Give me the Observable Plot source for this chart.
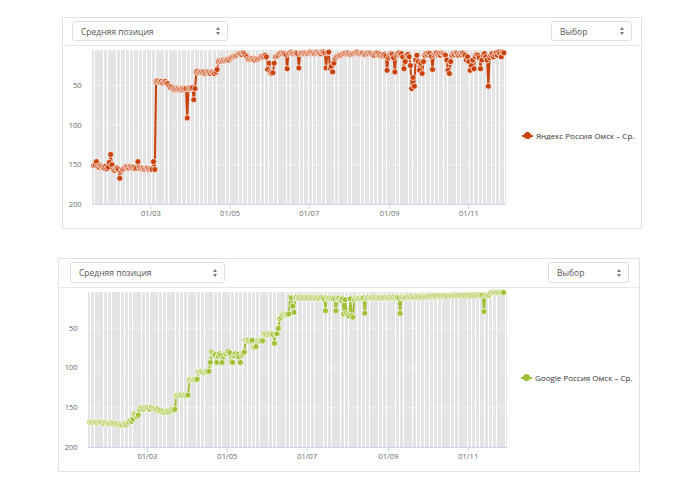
<!DOCTYPE html>
<html>
<head>
<meta charset="utf-8">
<script src="https://cdn.jsdelivr.net/npm/d3@7"></script>
<script src="https://cdn.jsdelivr.net/npm/@observablehq/plot@0.6"></script>
<style>
  body { margin: 0; background: #fff; font-family: "Open Sans", sans-serif; width: 688px; height: 480px; position: relative; overflow: hidden; }
  .card { position: absolute; box-sizing: border-box; border: 1px solid #e3e3e3; background: #fff; }
  .head { position: absolute; left: 0; right: 0; top: 0; border-bottom: 1px solid #e8e8e8; }
  .sel { position: absolute; box-sizing: border-box; border: 1px solid #dedede; border-radius: 3px; font-size: 8.5px; color: #555; padding-left: 8px; display: flex; align-items: center; }
  .arr { position: absolute; right: 7px; top: calc(50% - 4px); width: 4px; height: 8px; }
  .arr::before, .arr::after { content: ""; position: absolute; left: 0; border-left: 2px solid transparent; border-right: 2px solid transparent; }
  .arr::before { top: 0; border-bottom: 3px solid #777; }
  .arr::after { top: 5px; border-top: 3px solid #777; }
  .chart { position: absolute; left: 0; }
  .legend { position: absolute; display: flex; align-items: center; font-size: 8px; color: #333; white-space: nowrap; }
  .sym { position: relative; width: 11px; height: 8px; margin-right: 3px; }
  .sym .ln { position: absolute; left: 0; right: 0; top: 3px; height: 2px; }
  .sym .pt { position: absolute; left: 2px; top: 0.5px; width: 7px; height: 7px; border-radius: 50%; }
</style>
</head>
<body>
<div class="card" id="card1" style="left:62px; top:17px; width:580px; height:212px;">
  <div class="head" style="height:27px;">
    <div class="sel" style="left:9px; top:3px; width:156px; height:20px;">Средняя позиция<span class="arr"></span></div>
    <div class="sel" style="left:488px; top:3px; width:81px; height:20px;">Выбор<span class="arr"></span></div>
  </div>
  <div class="chart" id="chart1" style="top:27px;"></div>
  <div class="legend" style="left:459px; top:112px;"><span class="sym"><span class="ln" style="background:#c9410b"></span><span class="pt" style="background:#c9410b"></span></span>Яндекс Россия Омск – Ср.</div>
</div>
<div class="card" id="card2" style="left:58px; top:258px; width:582px; height:214px;">
  <div class="head" style="height:28px;">
    <div class="sel" style="left:11px; top:3px; width:155px; height:21px;">Средняя позиция<span class="arr"></span></div>
    <div class="sel" style="left:489px; top:3px; width:81px; height:21px;">Выбор<span class="arr"></span></div>
  </div>
  <div class="chart" id="chart2" style="top:28px;"></div>
  <div class="legend" style="left:462px; top:113px;"><span class="sym"><span class="ln" style="background:#a2c037"></span><span class="pt" style="background:#a2c037"></span></span>Google Россия Омск – Ср.</div>
</div>
<script>
// Daily average positions, 16 Jan – 28 Nov (one value per day).
const firstDay = "2017-01-16";

const yandexPositions = [
  // Jan 16–31
  151,150,146,152,153,151,152,153,154,152,155,153,147,137,150,156,
  // Feb
  157,155,154,156,167,158,156,155,153,152,153,154,152,153,154,153,155,154,146,153,155,154,155,156,155,154,155,156,
  // Mar
  155,156,146,156,45,44,45,46,45,47,46,45,47,48,51,53,52,54,55,54,55,54,55,55,54,55,54,54,91,54,53,
  // Apr
  54,53,68,54,33,32,34,33,33,34,33,35,34,33,34,35,33,34,35,33,30,20,19,20,19,18,19,18,17,18,
  // May
  16,15,14,13,13,12,11,10,10,11,9,10,12,14,17,16,17,16,17,18,16,17,16,15,14,13,14,12,14,30,22,
  // Jun
  33,35,34,22,14,13,12,10,9,10,9,10,11,29,10,9,8,9,10,9,9,10,28,10,9,9,10,9,9,10,
  // Jul
  9,8,9,9,10,9,8,9,9,10,8,8,9,28,9,8,28,26,33,22,16,14,13,12,12,11,10,10,9,10,9,
  // Aug
  10,11,10,10,9,9,8,9,10,9,9,10,11,10,9,10,9,10,11,12,10,9,10,12,11,13,12,11,13,31,15,
  // Sep
  12,10,11,15,33,12,10,9,11,10,14,29,20,12,11,14,25,54,40,51,18,12,20,31,22,35,20,12,10,11,
  // Oct
  9,10,13,30,12,10,9,11,10,12,9,10,11,12,18,31,35,20,12,10,11,9,10,12,10,11,9,10,12,18,14,
  // Nov 1–28
  20,31,25,18,29,14,11,12,15,29,18,12,10,14,18,51,15,12,10,14,11,9,12,8,10,14,8,9
];

const googlePositions = [
  // Jan 16–31
  168,168,169,168,168,169,169,168,168,169,169,170,169,169,170,170,
  // Feb
  170,169,170,170,171,170,171,172,171,172,171,170,171,169,168,166,167,164,158,160,161,159,152,150,151,152,150,151,
  // Mar
  150,151,152,149,150,151,152,153,152,154,153,155,154,156,155,154,155,153,154,152,153,152,135,134,135,134,134,135,134,134,135,
  // Apr
  134,115,114,115,115,114,115,114,105,105,104,105,106,105,104,105,104,93,80,82,84,83,93,85,82,84,93,86,83,82,
  // May
  80,79,81,92,93,84,82,85,83,86,93,84,82,80,65,66,65,67,66,65,74,74,73,66,65,66,65,66,57,57,58,
  // Jun
  57,58,57,57,58,69,57,57,50,38,36,33,32,33,32,33,32,11,12,22,30,12,11,12,11,12,11,12,11,12,
  // Jul
  11,12,11,12,11,12,12,11,12,13,12,11,12,13,28,12,13,12,13,12,13,13,28,13,12,14,15,13,32,14,31,
  // Aug
  33,35,13,34,36,14,12,13,12,12,13,12,12,31,12,12,11,12,12,11,12,11,12,12,11,12,11,12,11,11,12,
  // Sep
  12,11,12,11,11,12,11,11,12,31,11,11,12,11,11,10,11,11,10,11,11,10,11,10,10,11,10,10,11,10,
  // Oct
  10,10,9,10,9,9,10,9,9,9,10,9,9,9,9,10,9,9,9,9,9,8,9,9,8,9,9,8,9,9,8,
  // Nov 1–28
  9,8,9,9,8,9,8,9,8,8,9,8,29,8,9,8,8,6,5,5,5,5,5,5,5,5,5,5
];

const xTickDates = ["2017-03-01", "2017-05-01", "2017-07-01", "2017-09-01", "2017-11-01"];
const yTickValues = [50, 100, 150, 200];
const gridValues = [50, 100, 150];

const start = new Date(firstDay + "T00:00:00Z");
const toSeries = (values) => values.map((value, i) => ({ date: d3.utcDay.offset(start, i), value }));

function positionChart({ values, color, width, height, marginLeft, marginRight, marginTop, marginBottom, xDomain, yTop }) {
  const series = toSeries(values);
  const x0 = new Date(xDomain[0] + "T00:00:00Z");
  const x1 = new Date(xDomain[1] + "T00:00:00Z");
  const days = d3.utcDay.range(x0, x1);
  return Plot.plot({
    width, height, marginLeft, marginRight, marginTop, marginBottom,
    style: { fontFamily: "Open Sans, sans-serif", background: "transparent", overflow: "visible" },
    x: { type: "utc", domain: [x0, x1], label: null },
    y: { domain: [200, yTop], label: null },
    marks: [
      // one grey column per day
      Plot.rect(days, {
        x1: (d) => d, x2: (d) => d3.utcDay.offset(d, 1), y1: 200, y2: yTop,
        fill: "#e4e4e4", insetRight: 0.25, shapeRendering: "crispEdges"
      }),
      Plot.ruleY(gridValues, { stroke: "#ffffff", strokeOpacity: 0.7, strokeDasharray: "3,2" }),
      Plot.ruleY([200], { stroke: "#ccd6eb" }),
      Plot.axisX({
        ticks: xTickDates.map((s) => new Date(s + "T00:00:00Z")),
        tickFormat: d3.utcFormat("%d/%m"), label: null,
        tickSize: 5, tickPadding: 1, stroke: "#ccd6eb", fill: "#666", fontSize: 7.5
      }),
      Plot.axisY({ ticks: yTickValues, label: null, tickSize: 0, tickPadding: 11, fill: "#666", fontSize: 7.5 }),
      Plot.line(series, { x: "date", y: "value", stroke: color, strokeWidth: 2 }),
      Plot.dot(series, { x: "date", y: "value", r: 3, fill: color, stroke: "#fff", strokeWidth: 1, strokeOpacity: 0.7 })
    ]
  });
}

document.getElementById("chart1").append(positionChart({
  values: yandexPositions, color: "#c9410b",
  width: 578, height: 184, marginLeft: 29, marginRight: 135, marginTop: 5, marginBottom: 25,
  xDomain: ["2017-01-15", "2017-11-30"], yTop: 6
}));

document.getElementById("chart2").append(positionChart({
  values: googlePositions, color: "#a2c037",
  width: 580, height: 185, marginLeft: 29, marginRight: 132, marginTop: 5, marginBottom: 25,
  xDomain: ["2017-01-15", "2017-12-01"], yTop: 5
}));
</script>
</body>
</html>
